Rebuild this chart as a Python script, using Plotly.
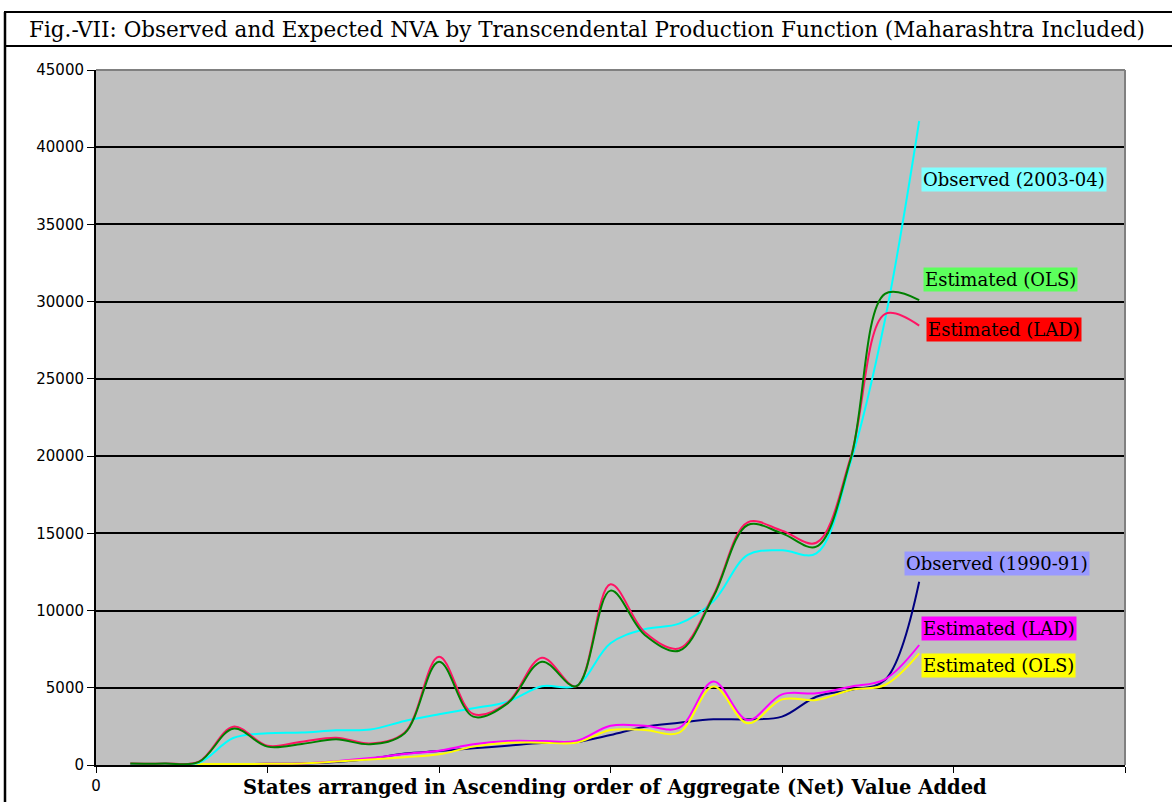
import plotly.graph_objects as go

# ---- data ----
states = list(range(1, 25))

obs_2003 = [50, 80, 150, 1750, 2050, 2100, 2250, 2300, 2850, 3280, 3670, 4100,
            5100, 5120, 7880, 8800, 9150, 10600, 13600, 13900, 13700, 19600, 28800, 41700]
ols_2003 = [90, 100, 200, 2350, 1190, 1360, 1660, 1340, 2050, 6690, 3130, 3990,
            6690, 5100, 11290, 8420, 7400, 10900, 15540, 15000, 14140, 19800, 30500, 30100]
lad_2003 = [90, 100, 220, 2480, 1250, 1510, 1770, 1400, 2100, 7010, 3300, 4050,
            6950, 5100, 11700, 8600, 7550, 11000, 15710, 15170, 14390, 19900, 29200, 28450]

obs_1990 = [30, 40, 60, 60, 80, 100, 200, 400, 750, 900, 1080, 1250,
            1420, 1480, 1940, 2480, 2740, 2960, 2960, 3130, 4420, 4860, 5500, 11870]
lad_1990 = [30, 40, 60, 60, 80, 100, 250, 450, 710, 925, 1340, 1550,
            1550, 1560, 2545, 2545, 2400, 5400, 2915, 4575, 4640, 5070, 5550, 7770]
ols_1990 = [30, 40, 60, 60, 80, 100, 220, 350, 500, 690, 1190, 1445,
            1445, 1445, 2265, 2265, 2100, 5080, 2700, 4250, 4210, 4860, 5180, 7230]

y_ticks = [0, 5000, 10000, 15000, 20000, 25000, 30000, 35000, 40000, 45000]
y_ticktext = ["0", "5000", "10000", "15000", "20000", "25000", "30000", "35000", "40000", "45000"]
x_ticks = [0, 5, 10, 15, 20, 25, 30]
x_ticktext = ["0", "", "", "", "", "", ""]

title_text = "Fig.-VII: Observed and Expected NVA by Transcendental Production Function (Maharashtra Included)"
xaxis_title = "States arranged in Ascending order of Aggregate (Net) Value Added"

labels = [
    ("Observed (2003-04)", 24.05, 37940, "#80FFFF"),
    ("Estimated (OLS)", 24.1, 31440, "#5CFF5C"),
    ("Estimated (LAD)", 24.2, 28200, "#FF0000"),
    ("Observed (1990-91)", 23.55, 13050, "#9999FF"),
    ("Estimated (LAD)", 24.05, 8840, "#FF00FF"),
    ("Estimated (OLS)", 24.05, 6440, "#FFFF00"),
]

# ---- figure ----
fig = go.Figure()

series = [
    (obs_1990, "#000080", "Observed (1990-91)"),
    (lad_1990, "#FF00FF", "Estimated (LAD) 1990-91"),
    (ols_1990, "#FFFF00", "Estimated (OLS) 1990-91"),
    (obs_2003, "#00FFFF", "Observed (2003-04)"),
    (lad_2003, "#FF1464", "Estimated (LAD) 2003-04"),
    (ols_2003, "#008000", "Estimated (OLS) 2003-04"),
]
for vals, col, name in series:
    fig.add_trace(go.Scatter(
        x=states, y=vals, mode="lines", name=name,
        line=dict(color=col, width=2, shape="spline", smoothing=1.0),
        showlegend=False, hoverinfo="x+y",
    ))

for text, lx, ly, bg in labels:
    fig.add_annotation(
        x=lx, y=ly, xref="x", yref="y", text=text, showarrow=False,
        xanchor="left", yanchor="middle", bgcolor=bg, borderpad=1,
        font=dict(family="DejaVu Serif", size=18, color="black"),
    )

W, H = 1172, 802
OFFY = 8  # vertical page offset of the figure (body margin)
RL, RR, RT, RB = 96, 1125, 70, 765  # plot area in reference pixels
L = RL
T = RT - OFFY
R = W - RR
B = H - (RB - OFFY)
pw, ph = W - L - R, H - T - B


def px(xp):
    return (xp - RL) / pw


def py(yp):
    return (RB - yp) / ph


# title
fig.add_annotation(
    x=px(587), y=py(29), xref="paper", yref="paper", text=title_text,
    showarrow=False, xanchor="center", yanchor="middle",
    font=dict(family="DejaVu Serif", size=21.5, color="black"),
)
# x-axis title
fig.add_annotation(
    x=px(615), y=py(787), xref="paper", yref="paper", text="<b>" + xaxis_title + "</b>",
    showarrow=False, xanchor="center", yanchor="middle",
    font=dict(family="DejaVu Serif", size=19.5, color="black"),
)

shapes = [
    # outer frame
    dict(type="line", xref="paper", yref="paper", x0=px(5), x1=px(5), y0=py(12), y1=py(830),
         line=dict(color="black", width=2.5)),
    dict(type="line", xref="paper", yref="paper", x0=px(4), x1=px(1190), y0=py(12), y1=py(12),
         line=dict(color="black", width=2)),
    dict(type="line", xref="paper", yref="paper", x0=px(4), x1=px(1190), y0=py(46), y1=py(46),
         line=dict(color="black", width=2)),
    # plot-area border top & right (gray)
    dict(type="line", xref="paper", yref="paper", x0=0, x1=1, y0=1, y1=1,
         line=dict(color="#808080", width=2)),
    dict(type="line", xref="paper", yref="paper", x0=1, x1=1, y0=0, y1=1,
         line=dict(color="#808080", width=2)),
]
fig.update_layout(shapes=shapes)

fig.update_layout(
    width=W, height=H,
    margin=dict(l=L, r=R, t=T, b=B, pad=0),
    paper_bgcolor="white", plot_bgcolor="#C0C0C0",
    showlegend=False,
    xaxis=dict(
        range=[0, 30], tickvals=x_ticks, ticktext=x_ticktext,
        ticks="outside", ticklen=6, tickwidth=1, tickcolor="black",
        showgrid=False, zeroline=False,
        showline=True, linecolor="black", linewidth=2,
        tickfont=dict(family="DejaVu Sans", size=15, color="black"),
    ),
    yaxis=dict(
        range=[0, 45000], tickvals=y_ticks, ticktext=y_ticktext,
        ticks="outside", ticklen=7, tickwidth=1, tickcolor="black",
        showgrid=True, gridcolor="black", gridwidth=2,
        zeroline=False,
        showline=True, linecolor="black", linewidth=2,
        tickfont=dict(family="DejaVu Sans", size=15, color="black"),
    ),
)

fig.write_html(
    "out.html",
    config={"displayModeBar": False},
    post_script="document.body.style.marginLeft='0';document.body.style.marginRight='0';",
)
